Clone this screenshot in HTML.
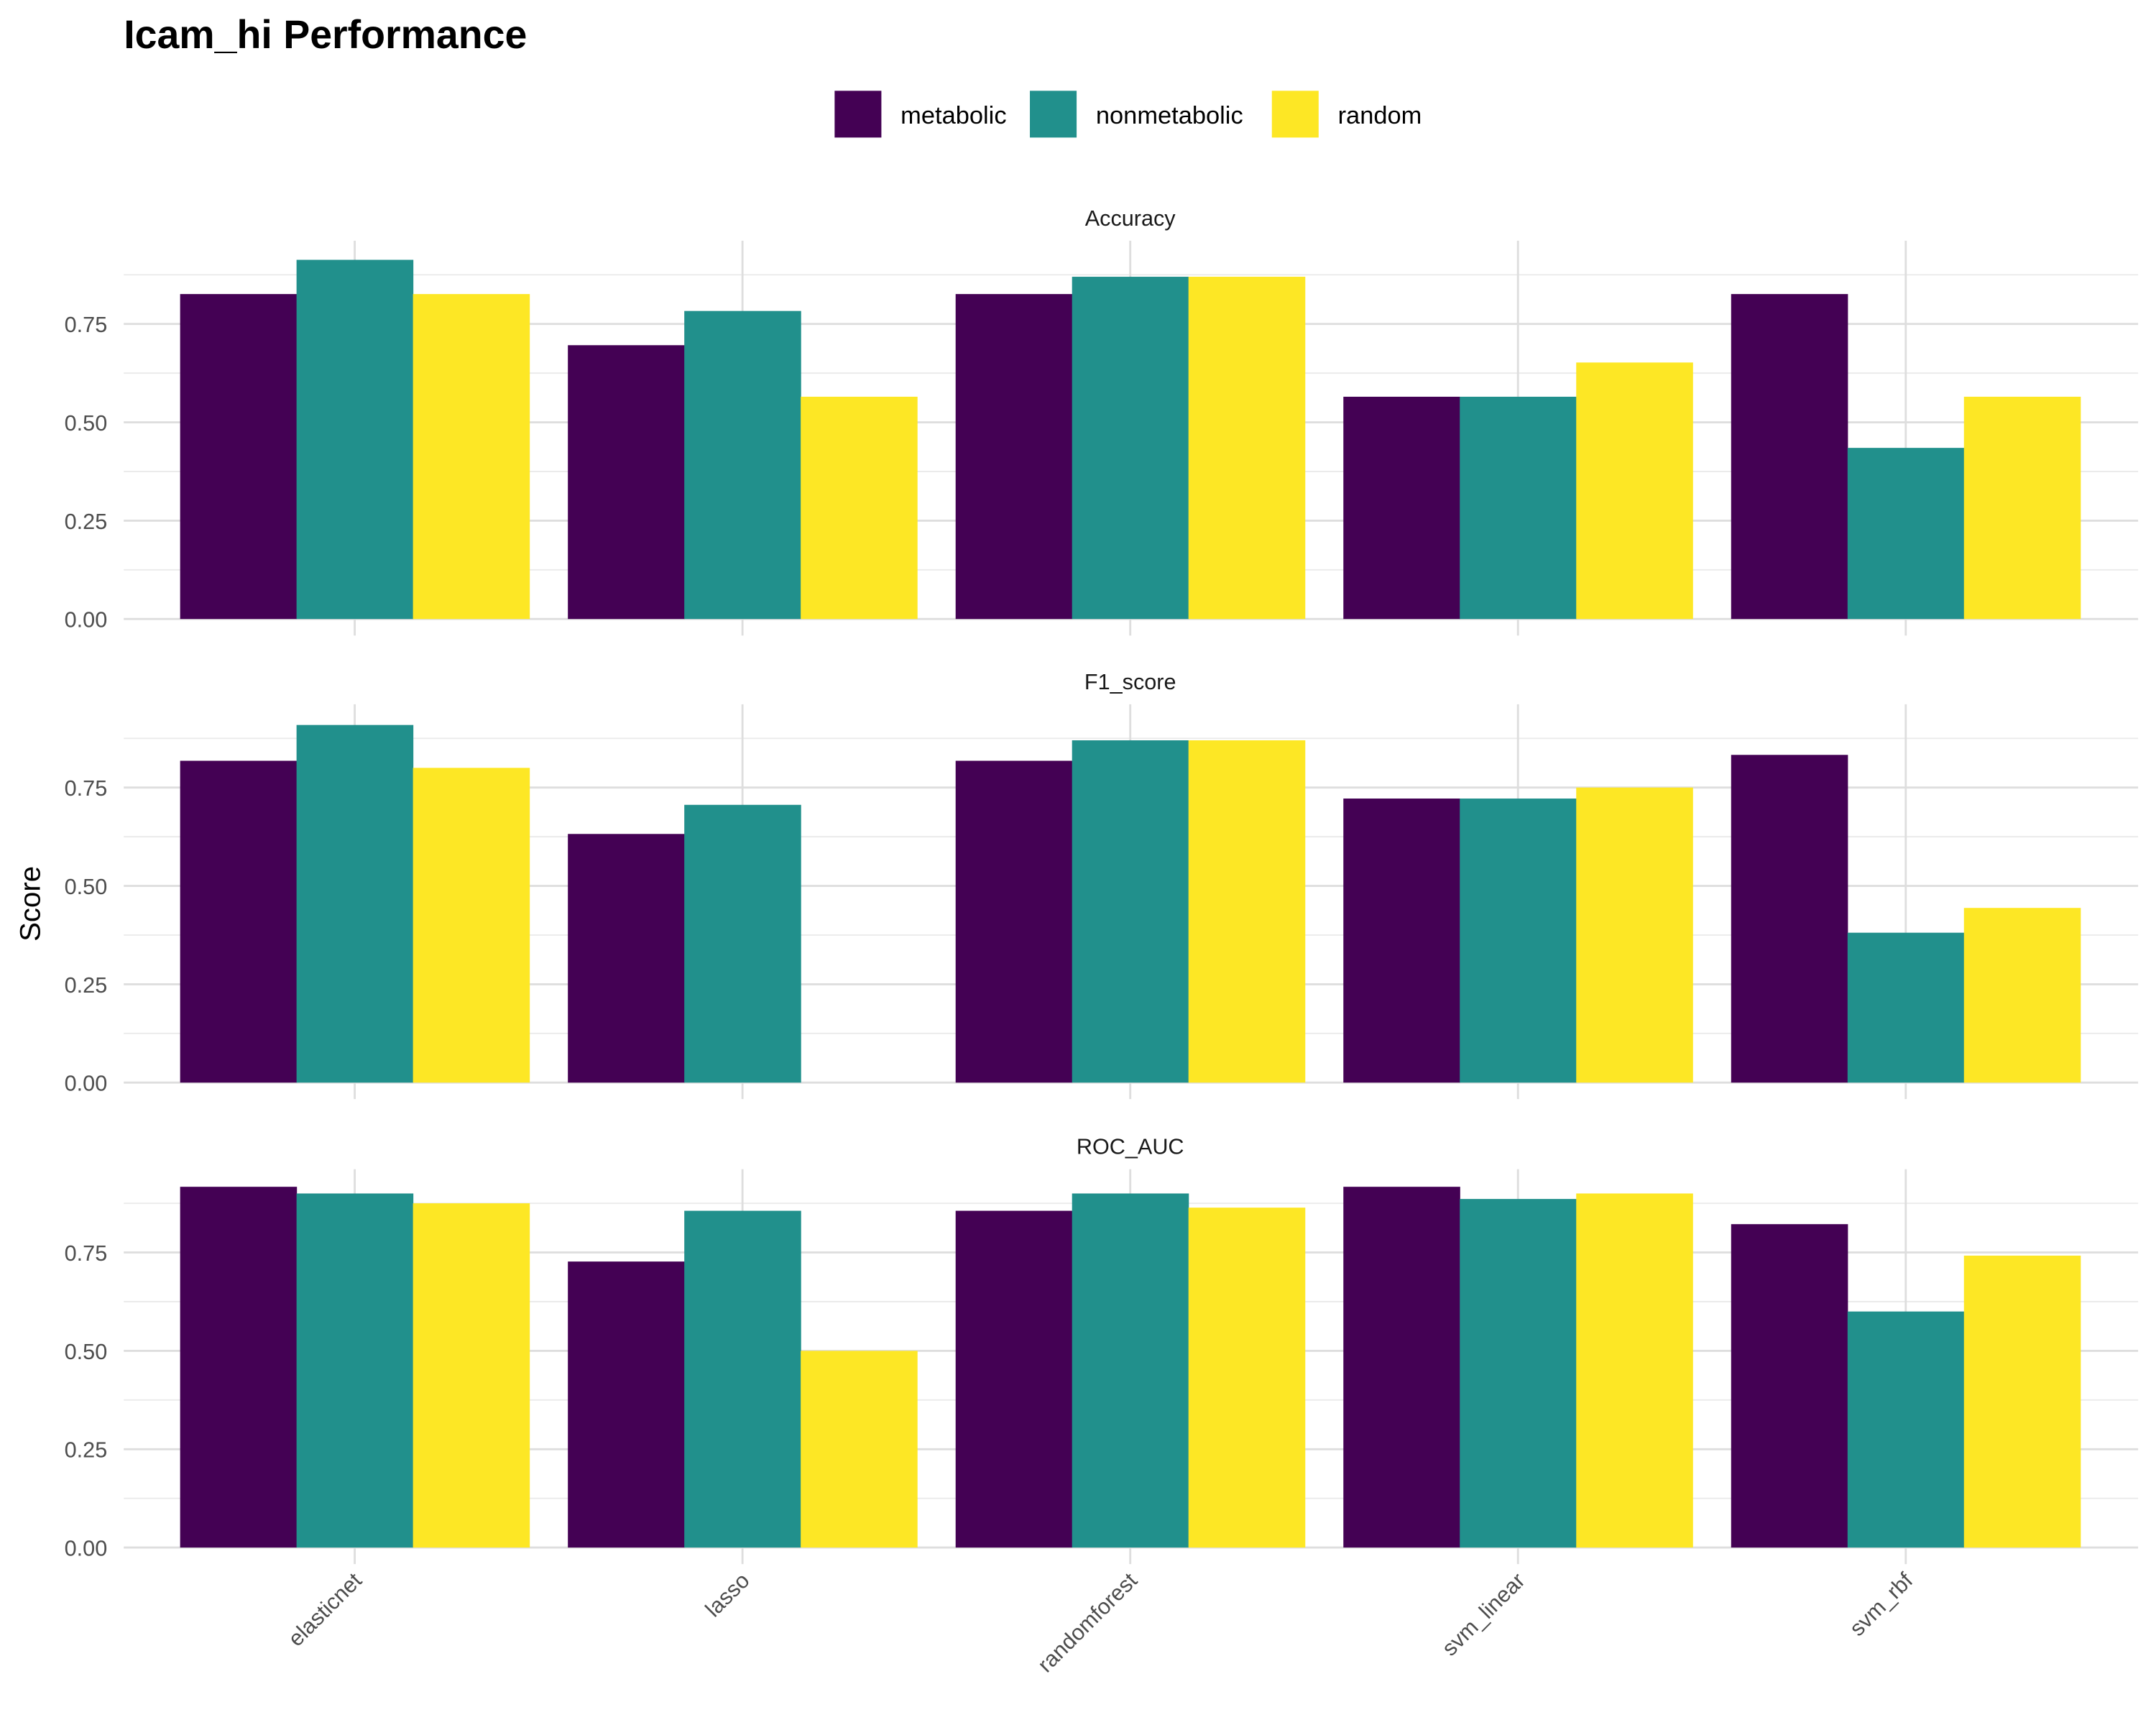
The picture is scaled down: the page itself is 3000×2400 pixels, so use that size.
<!DOCTYPE html>
<html><head><meta charset="utf-8"><style>
html,body{margin:0;padding:0;background:#fff;}
svg{display:block;font-family:"Liberation Sans",Arial,sans-serif;}
</style></head><body>
<svg id="chart" width="3000" height="2400" viewBox="0 0 1568 1254" preserveAspectRatio="none" xmlns="http://www.w3.org/2000/svg">
<rect x="0" y="0" width="1568" height="1254" fill="#fff"/>
<text x="90" y="35" font-size="29" font-weight="bold" fill="#000">Icam_hi Performance</text>
<g id="legend"></g>
<g id="panels"></g>
<text transform="translate(29,657) rotate(-90)" text-anchor="middle" font-size="21" fill="#000">Score</text>
</svg>
<script>
const categories = ["elasticnet","lasso","randomforest","svm_linear","svm_rbf"];
const series = ["metabolic","nonmetabolic","random"];
const colors = ["#440154","#21908C","#FDE725"];
const metrics = ["Accuracy","F1_score","ROC_AUC"];
const accuracyValues = [[0.826,0.696,0.826,0.565,0.826],[0.913,0.783,0.870,0.565,0.435],[0.826,0.565,0.870,0.652,0.565]];
const f1Values = [[0.818,0.632,0.818,0.722,0.833],[0.909,0.706,0.870,0.722,0.381],[0.800,0,0.870,0.750,0.444]];
const rocValues = [[0.917,0.727,0.856,0.917,0.822],[0.900,0.856,0.900,0.886,0.600],[0.875,0.500,0.864,0.900,0.742]];
const yTicks = ["0.00","0.25","0.50","0.75"];
const yTickValues = [0,0.25,0.5,0.75];

const NS="http://www.w3.org/2000/svg";
const svg=document.getElementById('chart');
function mk(tag,attrs,parent){const e=document.createElementNS(NS,tag);for(const k in attrs)e.setAttribute(k,attrs[k]);(parent||svg).appendChild(e);return e;}

const lg=document.getElementById('legend');
const legX=[607,749,925];
series.forEach((s,i)=>{
  const g=mk('g',{},lg);
  
  
  mk('rect',{x:legX[i],y:66,width:34,height:34,fill:colors[i]},g);
  const t=mk('text',{x:legX[i]+48,y:90,'font-size':18,fill:'#000'},g);
  t.textContent=s;
});

const allValues=[accuracyValues,f1Values,rocValues];
const panelBottoms=[450,787,1125];
const panelHeight=275;
const unit=286;
const xLeft=90,xRight=1555,step=282,firstCenter=258,groupW=254;
const xCenter=i=>firstCenter+i*step;
const panelsG=document.getElementById('panels');

metrics.forEach((m,p)=>{
  const g=mk('g',{},panelsG);
  
  
  const y0=panelBottoms[p];
  const yScale=v=>y0-v*unit;
  const top=y0-panelHeight;
  [0.125,0.375,0.625,0.875].forEach(v=>mk('line',{x1:xLeft,x2:xRight,y1:yScale(v),y2:yScale(v),stroke:'#ebebeb','stroke-width':1},g));
  yTickValues.forEach(v=>mk('line',{x1:xLeft,x2:xRight,y1:yScale(v),y2:yScale(v),stroke:'#dedede','stroke-width':1.5},g));
  categories.forEach((c,i)=>mk('line',{x1:xCenter(i),x2:xCenter(i),y1:top,y2:y0+12,stroke:'#dedede','stroke-width':1.5},g));
  const st=mk('text',{x:822,y:top-11,'text-anchor':'middle','font-size':16,fill:'#1a1a1a'},g);
  
  
  st.textContent=m;
  yTicks.forEach((lab,k)=>{
    const t=mk('text',{x:78,y:yScale(yTickValues[k])+6,'text-anchor':'end','font-size':16,fill:'#4d4d4d'},g);
    
    
    t.textContent=lab;
  });
  const vals=allValues[p];
  const bw=groupW/series.length;
  series.forEach((s,si)=>{
    categories.forEach((c,ci)=>{
      const v=vals[si][ci];
      const x=xCenter(ci)-groupW/2+si*bw;
      const r=mk('rect',{x:x,y:yScale(v),width:bw+0.3,height:v*unit,fill:colors[si]},g);
      
      
    });
  });
});
categories.forEach((c,i)=>{
  const t=mk('text',{transform:`translate(${xCenter(i)+6},1150) rotate(-45)`,'text-anchor':'end','font-size':16,fill:'#4d4d4d'});
  
  
  t.textContent=c;
});
</script>
</body></html>
